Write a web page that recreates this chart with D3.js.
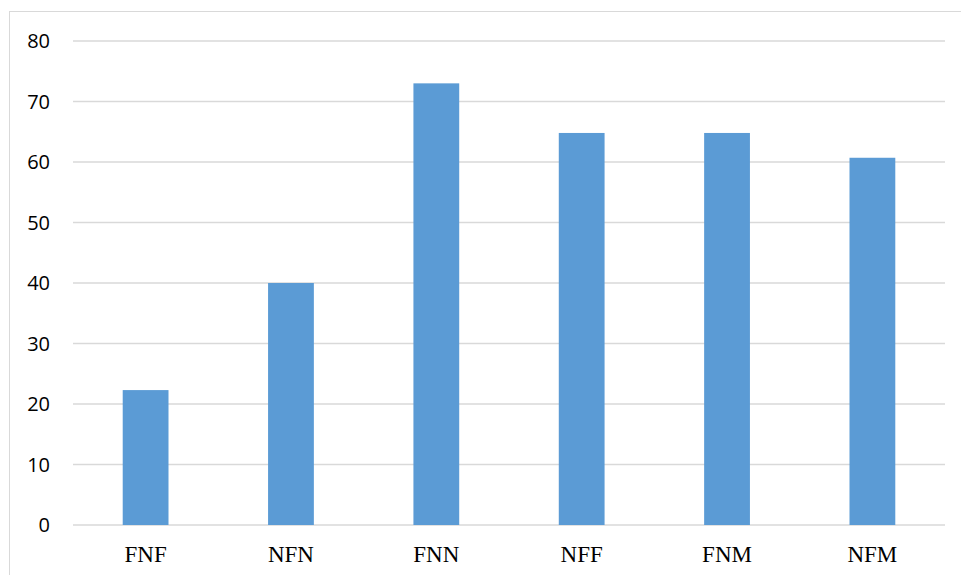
<!DOCTYPE html>
<html>
<head>
<meta charset="utf-8">
<script src="https://cdn.jsdelivr.net/npm/d3@7"></script>
<style>
  body { margin: 0; background: #fff; }
</style>
</head>
<body>
<svg id="chart" width="961" height="575"></svg>
<script>
// data
const categories = ['FNF', 'NFN', 'FNN', 'NFF', 'FNM', 'NFM'];
const values = [22.3, 40, 73, 64.8, 64.8, 60.7];
const yTicks = [0, 10, 20, 30, 40, 50, 60, 70, 80];

const svg = d3.select('#chart');
const margin = {left: 73, right: 16, top: 41, bottom: 50};
const width = 961 - margin.left - margin.right;
const height = 575 - margin.top - margin.bottom;

// outer frame (only left and top edges visible)
svg.append('rect')
    .attr('x', 9.5).attr('y', 11.5)
    .attr('width', 1000).attr('height', 600)
    .attr('fill', 'none')
    .attr('stroke', '#D9D9D9')
    .attr('stroke-width', 1);

const g = svg.append('g').attr('transform', `translate(${margin.left},${margin.top})`);

let x = d3.scaleBand().domain(categories).range([0, width]).paddingInner(0.685).paddingOuter(0.342);
let y = d3.scaleLinear().domain([0, 80]).range([height, 0]);

// gridlines
g.selectAll('.grid')
    .data(yTicks)
    .enter().append('line')
    .attr('x1', 0).attr('x2', width)
    .attr('y1', d => y(d)).attr('y2', d => y(d))
    .attr('stroke', '#D9D9D9')
    .attr('stroke-width', '1.3px');

// y labels
g.selectAll('.ylab')
    .data(yTicks)
    .enter().append('text')
    .attr('x', -23)
    .attr('y', d => y(d))
    .attr('dy', '0.36em')
    .attr('text-anchor', 'end')
    .attr('font-family', '"Open Sans", sans-serif')
    .attr('font-size', '20px')
    .attr('fill', '#000')
    .text(d => d);

// bars
g.selectAll('.bar')
    .data(values)
    .enter().append('rect')
    .attr('x', (d, i) => x(categories[i]))
    .attr('y', d => y(d))
    .attr('width', x.bandwidth())
    .attr('height', d => height - y(d))
    .attr('fill', '#5B9BD5');

// category labels
g.selectAll('.xlab')
    .data(categories)
    .enter().append('text')
    .attr('x', d => x(d) + x.bandwidth() / 2)
    .attr('y', height + 37)
    .attr('text-anchor', 'middle')
    .attr('font-family', '"Liberation Serif", "Times New Roman", serif')
    .attr('font-size', '23px')
    .attr('fill', '#000')
    .text(d => d);
</script>
</body>
</html>
